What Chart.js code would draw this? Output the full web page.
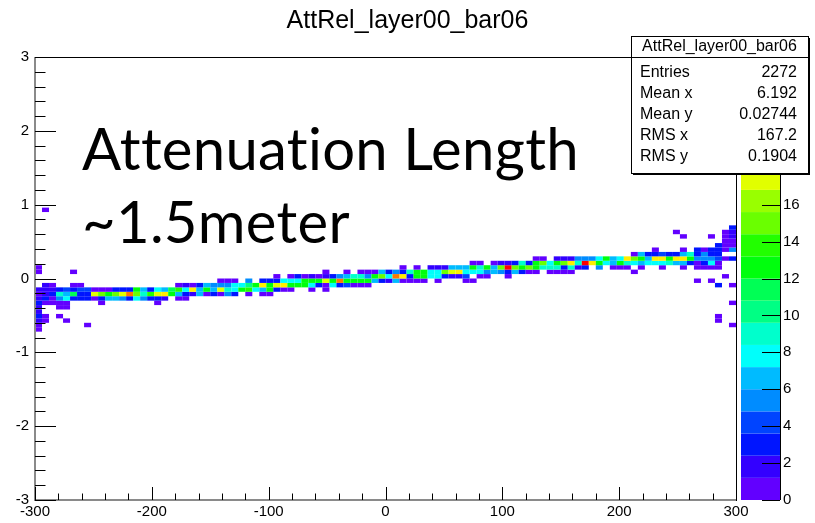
<!DOCTYPE html>
<html>
<head>
<meta charset="utf-8">
<title>AttRel_layer00_bar06</title>
<script src="https://cdn.jsdelivr.net/npm/chart.js@4.4.1/dist/chart.umd.min.js"></script>
<style>
  html, body { margin: 0; padding: 0; background: #ffffff; }
  canvas { display: block; }
</style>
</head>
<body>
<canvas id="hist" width="815" height="523"></canvas>
<script>
// ---- Histogram definition -------------------------------------------------
const histTitle = 'AttRel_layer00_bar06';
const xRange = [-300, 300];
const yRange = [-3, 3];
const xBins = 100;
const yBins = 100;
const zMax = 24;

const xTickValues = [-300, -200, -100, 0, 100, 200, 300];
const yTickValues = [-3, -2, -1, 0, 1, 2, 3];
const zTickValues = [0, 2, 4, 6, 8, 10, 12, 14, 16, 18, 20, 22, 24];

// x bin centres (one column per bin)
const binX = [
  -297, -291, -285, -279, -273, -267, -261, -255, -249, -243,
  -237, -231, -225, -219, -213, -207, -201, -195, -189, -183,
  -177, -171, -165, -159, -153, -147, -141, -135, -129, -123,
  -117, -111, -105, -99, -93, -87, -81, -75, -69, -63,
  -57, -51, -45, -39, -33, -27, -21, -15, -9, -3,
  3, 9, 15, 21, 27, 33, 39, 45, 51, 57,
  63, 69, 75, 81, 87, 93, 99, 105, 111, 117,
  123, 129, 135, 141, 147, 153, 159, 165, 171, 177,
  183, 189, 195, 201, 207, 213, 219, 225, 231, 237,
  243, 249, 255, 261, 267, 273, 279, 285, 291, 297
];

// centre of the lowest filled y bin of the band, per column
const bandYLow = [
  -0.69, -0.33, -0.33, -0.39, -0.39, -0.27, -0.27, -0.27, -0.27, -0.33,
  -0.27, -0.27, -0.27, -0.27, -0.27, -0.27, -0.27, -0.33, -0.27, -0.21,
  -0.27, -0.27, -0.21, -0.21, -0.21, -0.21, -0.21, -0.21, -0.21, -0.15,
  -0.21, -0.15, -0.21, -0.21, -0.15, -0.15, -0.15, -0.09, -0.09, -0.15,
  -0.09, -0.15, -0.09, -0.09, -0.09, -0.09, -0.09, -0.09, -0.03, -0.03,
  -0.03, -0.03, -0.03, -0.03, -0.03, -0.03, 0.03, -0.03, 0.03, 0.03,
  0.03, -0.03, -0.03, 0.03, 0.03, 0.09, 0.09, 0.03, 0.09, 0.09,
  0.09, 0.09, 0.15, 0.09, 0.09, 0.09, 0.09, 0.15, 0.15, 0.21,
  0.15, 0.21, 0.15, 0.15, 0.15, 0.09, 0.15, 0.21, 0.21, 0.15,
  0.21, 0.21, 0.15, 0.21, 0.15, 0.15, 0.15, 0.15, 0.27, 0.27
];

// entries per y bin, going upward from bandYLow (0 = empty bin)
const bandCounts = [
  [1, 1, 2, 3, 2, 2, 3, 2, 1, 2], [1, 3, 2, 2, 2], [1, 1, 3, 2, 1], [1, 1, 5, 9, 3], [1, 1, 8, 6, 4],
  [3, 11, 3, 1], [3, 3, 4, 1], [3, 3, 4], [1, 17, 1], [1, 3, 15, 1],
  [6, 13, 1], [6, 15, 3], [5, 17, 3], [3, 21, 3], [8, 15, 13],
  [5, 9, 6], [3, 14, 3], [1, 3, 17, 8], [2, 18, 6], [13, 11],
  [1, 6, 14, 1], [1, 3, 8, 2], [2, 18, 1], [6, 6, 3], [1, 13, 6],
  [3, 6, 5], [1, 17, 5, 1], [5, 9, 5, 1], [3, 8, 8, 1], [13, 8],
  [1, 14, 10, 5], [8, 13], [1, 6, 18, 3], [1, 13, 13, 3], [3, 17, 3, 1],
  [1, 18, 8], [1, 13, 8, 1], [13, 8, 3], [13, 13, 1], [1, 8, 13, 2],
  [3, 13, 1], [1, 1, 17, 2, 1], [8, 13, 3], [3, 21, 5], [4, 13, 6, 1],
  [1, 13, 9], [1, 13, 9, 1], [1, 13, 5, 1], [6, 13, 1], [3, 15, 6],
  [2, 8, 3], [6, 21, 5], [1, 18, 3, 1], [1, 3, 9], [1, 13, 13, 1],
  [1, 13, 13], [8, 8, 2], [1, 8, 8, 2], [3, 15, 2], [2, 17, 6],
  [2, 18, 6], [1, 4, 8, 6], [1, 0, 8, 13, 1], [1, 8, 9, 1], [1, 5, 13],
  [6, 6, 1], [5, 15, 2], [1, 3, 23, 2], [6, 15, 3], [3, 13, 9],
  [1, 15, 3], [1, 13, 13, 1], [9, 15, 1], [1, 9, 8], [1, 9, 13, 2],
  [1, 3, 15, 2], [1, 9, 18, 2], [2, 9, 5], [3, 23, 5], [18, 5],
  [5, 13, 8], [8, 13], [1, 6, 6], [1, 13, 8], [1, 9, 18],
  [1, 0, 8, 15, 1], [1, 6, 13, 6], [8, 6, 3], [8, 18, 3, 1], [1, 8, 18, 4],
  [9, 13, 3], [6, 18, 3], [1, 6, 18, 6, 1], [3, 13, 9], [1, 1, 5, 3, 3],
  [1, 3, 5, 5, 1], [1, 8, 5, 3, 3], [1, 1, 4, 3, 3, 3], [1, 0, 1, 1, 1, 1, 1], [3, 0, 5, 1, 1, 2, 2, 3]
];

// isolated entries away from the band
const strayX = [-297, -297, -291, -291, -291, -279, -273, -267, -255, 249, 255, 267, 279, 279, 285, 285, 285, 291, 297, 297, 297];
const strayY = [0.09, 0.15, -0.57, -0.51, 0.93, -0.51, -0.57, 0.09, -0.63, 0.63, 0.57, -0.03, -0.03, 0.57, -0.57, -0.51, -0.09, 0.03, -0.63, -0.33, -0.09];
const strayN = [1, 1, 1, 1, 1, 1, 1, 1, 1, 1, 1, 1, 1, 1, 1, 1, 3, 1, 1, 1, 1];

// statistics box
const statsLabels = ['Entries', 'Mean x', 'Mean y', 'RMS x', 'RMS y'];
const statsValues = ['2272', '6.192', '0.02744', '167.2', '0.1904'];

// annotation
const noteLines = ['Attenuation Length', '~1.5meter'];

// 20-level colour palette, violet -> red
const paletteColors = [
  'hsl(263,100%,50%)', 'hsl(252,100%,50%)', 'hsl(235,100%,50%)', 'hsl(224,100%,50%)',
  'hsl(207,100%,50%)', 'hsl(196,100%,50%)', 'hsl(179,100%,50%)', 'hsl(168,100%,50%)',
  'hsl(151,100%,50%)', 'hsl(140,100%,50%)', 'hsl(123,100%,50%)', 'hsl(112,100%,50%)',
  'hsl(95,100%,50%)', 'hsl(84,100%,50%)', 'hsl(67,100%,50%)', 'hsl(56,100%,50%)',
  'hsl(39,100%,50%)', 'hsl(28,100%,50%)', 'hsl(11,100%,50%)', 'hsl(0,100%,50%)'
];

// ---- Build the cell list ---------------------------------------------------
const xBinWidth = (xRange[1] - xRange[0]) / xBins;
const yBinWidth = (yRange[1] - yRange[0]) / yBins;

const cells = [];
binX.forEach((x, i) => {
  bandCounts[i].forEach((n, j) => {
    if (n > 0) cells.push({ x: x, y: +(bandYLow[i] + j * yBinWidth).toFixed(2), n: n });
  });
});
strayX.forEach((x, i) => cells.push({ x: x, y: strayY[i], n: strayN[i] }));

const levels = paletteColors.length;
function colourFor(n) {
  const idx = Math.min(levels - 1, Math.floor(0.01 + n * levels / zMax));
  return paletteColors[idx];
}

const helv = "'Liberation Sans', Arial, Helvetica, sans-serif";

// ---- Painter: colour cells, palette, frame ticks, stats box, note ---------
const rootPainter = {
  id: 'rootPainter',
  beforeDatasetsDraw(chart) {
    const { ctx, chartArea: a, scales } = chart;
    const xs = scales.x, ys = scales.y, zs = scales.z;
    ctx.save();
    ctx.beginPath();
    ctx.rect(a.left, a.top, a.right - a.left, a.bottom - a.top);
    ctx.clip();
    chart.data.datasets[0].data.forEach(c => {
      const x0 = xs.getPixelForValue(c.x - xBinWidth / 2);
      const x1 = xs.getPixelForValue(c.x + xBinWidth / 2);
      const y0 = ys.getPixelForValue(c.y + yBinWidth / 2);
      const y1 = ys.getPixelForValue(c.y - yBinWidth / 2);
      ctx.fillStyle = colourFor(c.n);
      ctx.fillRect(x0, y0, x1 - x0, y1 - y0);
    });
    ctx.restore();

    // palette bar
    const pl = a.right + 5, pr = a.right + 44;
    ctx.save();
    paletteColors.forEach((col, b) => {
      const yb = zs.getPixelForValue(b * zMax / levels);
      const yt = zs.getPixelForValue((b + 1) * zMax / levels);
      ctx.fillStyle = col;
      ctx.fillRect(pl, yt, pr - pl, yb - yt);
    });
    ctx.strokeStyle = '#000';
    ctx.lineWidth = 1;
    ctx.beginPath();
    ctx.moveTo(pr + 0.5, zs.getPixelForValue(0));
    ctx.lineTo(pr + 0.5, zs.getPixelForValue(zMax));
    zTickValues.forEach(v => {
      const y = Math.round(zs.getPixelForValue(v)) + 0.5;
      ctx.moveTo(pr - 18, y);
      ctx.lineTo(pr, y);
    });
    ctx.stroke();
    ctx.restore();
  },
  afterDraw(chart) {
    const { ctx, chartArea: a, scales } = chart;
    const xs = scales.x, ys = scales.y;
    ctx.save();
    // frame
    ctx.strokeStyle = '#000';
    ctx.lineWidth = 1;
    ctx.strokeRect(a.left + 0.5, a.top + 0.5, a.right - a.left, a.bottom - a.top);
    // axis lines
    ctx.strokeStyle = '#8a8a8a';
    ctx.lineWidth = 2;
    ctx.beginPath();
    ctx.moveTo(a.left, a.top);
    ctx.lineTo(a.left, a.bottom);
    ctx.lineTo(a.right, a.bottom);
    ctx.stroke();
    // ticks drawn inside the frame
    ctx.strokeStyle = '#000';
    ctx.lineWidth = 1;
    ctx.beginPath();
    for (let v = xRange[0]; v <= xRange[1] + 1e-9; v += 20) {
      const major = xTickValues.includes(Math.round(v));
      const px = Math.round(xs.getPixelForValue(v)) + 0.5;
      ctx.moveTo(px, a.bottom);
      ctx.lineTo(px, a.bottom - (major ? 13 : 6.5));
    }
    for (let k = 0; k <= 30; k++) {
      const v = yRange[0] + k * 0.2;
      const major = k % 5 === 0;
      const py = Math.round(ys.getPixelForValue(v)) + 0.5;
      ctx.moveTo(a.left, py);
      ctx.lineTo(a.left + (major ? 21 : 10.5), py);
    }
    ctx.stroke();

    // statistics box
    const bx = 631, by = 36, bw = 177, bh = 137;
    ctx.fillStyle = '#000';
    ctx.fillRect(bx + 2, by + 2, bw, bh);
    ctx.fillStyle = '#fff';
    ctx.fillRect(bx, by, bw, bh);
    ctx.strokeStyle = '#000';
    ctx.lineWidth = 1;
    ctx.strokeRect(bx + 0.5, by + 0.5, bw, bh);
    ctx.beginPath();
    ctx.moveTo(bx, by + 21.5);
    ctx.lineTo(bx + bw, by + 21.5);
    ctx.stroke();
    ctx.fillStyle = '#000';
    ctx.font = '16px ' + helv;
    ctx.textBaseline = 'middle';
    ctx.textAlign = 'center';
    ctx.fillText(histTitle, bx + bw / 2, by + 11);
    statsLabels.forEach((lab, i) => {
      const yy = by + 37 + i * 20.8;
      ctx.textAlign = 'left';
      ctx.fillText(lab, bx + 9, yy);
      ctx.textAlign = 'right';
      ctx.fillText(statsValues[i], bx + bw - 11, yy);
    });

    // annotation text
    ctx.fillStyle = '#000';
    ctx.textAlign = 'left';
    ctx.textBaseline = 'alphabetic';
    ctx.font = '58px Lato, "Open Sans", sans-serif';
    if ('letterSpacing' in ctx) ctx.letterSpacing = '0.3px';
    ctx.fillText(noteLines[0], 82, 170);
    ctx.fillText(noteLines[1], 82, 243);
    ctx.restore();
  }
};

new Chart(document.getElementById('hist').getContext('2d'), {
  type: 'scatter',
  data: {
    datasets: [{ data: cells, pointRadius: 0, pointHoverRadius: 0, showLine: false }]
  },
  options: {
    responsive: false,
    animation: false,
    events: [],
    layout: { padding: 0 },
    plugins: {
      legend: { display: false },
      tooltip: { enabled: false },
      title: {
        display: true,
        text: histTitle,
        color: '#000',
        font: { family: helv, size: 25, weight: 'normal', lineHeight: 1.2 },
        padding: { top: 6, bottom: 21 }
      }
    },
    scales: {
      x: {
        type: 'linear', position: 'bottom', min: xRange[0], max: xRange[1],
        afterFit(s) { s.height = 23; },
        afterBuildTicks(s) { s.ticks = xTickValues.map(v => ({ value: v })); },
        ticks: { padding: 3, color: '#000', font: { family: helv, size: 15 }, maxRotation: 0, autoSkip: false },
        grid: { display: false, drawTicks: false },
        border: { display: false }
      },
      y: {
        type: 'linear', position: 'left', min: yRange[0], max: yRange[1],
        afterFit(s) { s.width = 35; },
        afterBuildTicks(s) { s.ticks = yTickValues.map(v => ({ value: v })); },
        ticks: { padding: 6, color: '#000', font: { family: helv, size: 15 }, autoSkip: false },
        grid: { display: false, drawTicks: false },
        border: { display: false }
      },
      z: {
        type: 'linear', position: 'right', min: 0, max: zMax,
        afterFit(s) { s.width = 79; },
        afterBuildTicks(s) { s.ticks = zTickValues.map(v => ({ value: v })); },
        ticks: { padding: 4, color: '#000', font: { family: helv, size: 15 }, autoSkip: false },
        grid: { display: false, drawTicks: true, tickLength: 43 },
        border: { display: false }
      }
    }
  },
  plugins: [rootPainter]
});
</script>
</body>
</html>
